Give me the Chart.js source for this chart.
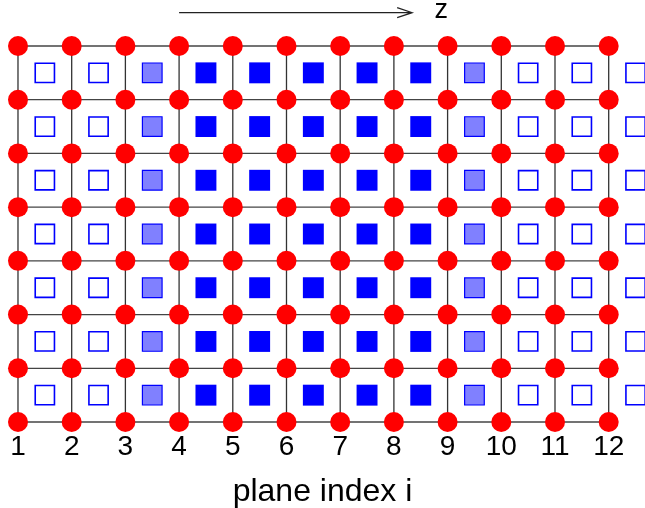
<!DOCTYPE html>
<html>
<head>
<meta charset="utf-8">
<script src="https://cdn.jsdelivr.net/npm/chart.js@4/dist/chart.umd.min.js"></script>
<style>
  html, body { margin: 0; padding: 0; background: #fff; }
  #wrap { width: 645px; height: 508px; }
</style>
</head>
<body>
<div id="wrap"><canvas id="mycanvas"></canvas></div>
<script>
// lattice planes along z (tick labels) and the row levels
var planeIndex = [1, 2, 3, 4, 5, 6, 7, 8, 9, 10, 11, 12];
var tickLabels = ["1", "2", "3", "4", "5", "6", "7", "8", "9", "10", "11", "12"];
var rowLevels = [0, 1, 2, 3, 4, 5, 6, 7];

// squares sit between the planes
var squareRows = [0.5, 1.5, 2.5, 3.5, 4.5, 5.5, 6.5];
var emptyCols = [1.5, 2.5, 10.5, 11.5, 12.5];
var halfCols = [3.5, 9.5];
var fullCols = [4.5, 5.5, 6.5, 7.5, 8.5];

// arrow "z" at the top
var arrowFrom = 4;
var arrowTo = 8.34;
var arrowLevel = 7.62;
var arrowLabelX = 8.88;

var font = "'Liberation Sans', Arial, Helvetica, sans-serif";

function grid(cols, rows) {
  var pts = [];
  for (var i = 0; i < cols.length; i++) {
    for (var j = 0; j < rows.length; j++) {
      pts.push({x: cols[i], y: rows[j]});
    }
  }
  return pts;
}

var datasets = [];

// horizontal lattice lines
rowLevels.forEach(function (r) {
  datasets.push({
    type: 'line',
    data: [{x: planeIndex[0], y: r}, {x: planeIndex[planeIndex.length - 1], y: r}],
    borderColor: '#444',
    borderWidth: 1.3,
    pointRadius: 0,
    order: 5
  });
});
// vertical lattice lines
planeIndex.forEach(function (c) {
  datasets.push({
    type: 'line',
    data: [{x: c, y: rowLevels[0]}, {x: c, y: rowLevels[rowLevels.length - 1]}],
    borderColor: '#333',
    borderWidth: 1.3,
    pointRadius: 0,
    order: 5
  });
});

datasets.push({
  type: 'scatter',
  data: grid(planeIndex, rowLevels),
  pointStyle: 'circle',
  pointRadius: 10,
  backgroundColor: '#ff0000',
  borderWidth: 0,
  clip: false,
  order: 1
});
datasets.push({
  type: 'scatter',
  data: grid(emptyCols, squareRows),
  pointStyle: 'rect',
  pointRadius: 13.6,
  backgroundColor: '#ffffff',
  borderColor: '#0000ff',
  borderWidth: 1.6,
  clip: false,
  order: 1
});
datasets.push({
  type: 'scatter',
  data: grid(halfCols, squareRows),
  pointStyle: 'rect',
  pointRadius: 13.9,
  backgroundColor: '#8080ff',
  borderColor: '#0000ff',
  borderWidth: 1.2,
  clip: false,
  order: 1
});
datasets.push({
  type: 'scatter',
  data: grid(fullCols, squareRows),
  pointStyle: 'rect',
  pointRadius: 14.8,
  backgroundColor: '#0000ff',
  borderWidth: 0,
  clip: false,
  order: 1
});

var arrowPlugin = {
  id: 'zArrow',
  afterDatasetsDraw: function (chart) {
    var ctx = chart.ctx;
    var xs = chart.scales.x, ys = chart.scales.y;
    var x0 = xs.getPixelForValue(arrowFrom);
    var x1 = xs.getPixelForValue(arrowTo);
    var y = ys.getPixelForValue(arrowLevel);
    ctx.save();
    ctx.strokeStyle = '#222';
    ctx.lineWidth = 1.2;
    ctx.beginPath();
    ctx.moveTo(x0, y);
    ctx.lineTo(x1, y);
    ctx.moveTo(x1 - 15, y - 5);
    ctx.lineTo(x1, y);
    ctx.lineTo(x1 - 15, y + 5);
    ctx.stroke();
    ctx.fillStyle = '#000';
    ctx.font = '27px ' + font;
    ctx.textAlign = 'center';
    ctx.textBaseline = 'middle';
    ctx.fillText('z', xs.getPixelForValue(arrowLabelX), y - 2);
    ctx.restore();
  }
};

var ctx = document.getElementById('mycanvas');
var chart = new Chart(ctx, {
  data: {datasets: datasets},
  plugins: [arrowPlugin],
  options: {
    responsive: true,
    maintainAspectRatio: false,
    animation: false,
    layout: {padding: 0, autoPadding: false},
    plugins: {legend: {display: false}, tooltip: {enabled: false}},
    scales: {
      x: {
        type: 'linear',
        min: 0.665,
        max: 12.676,
        afterBuildTicks: function (axis) {
          axis.ticks = planeIndex.map(function (v) { return {value: v}; });
        },
        ticks: {
          color: '#000',
          font: {family: font, size: 28},
          padding: 0,
          maxRotation: 0,
          callback: function (value) { return tickLabels[planeIndex.indexOf(value)]; }
        },
        grid: {display: false, drawTicks: false},
        border: {display: false},
        title: {
          display: true,
          text: 'plane index i',
          color: '#000',
          font: {family: font, size: 32, lineHeight: 1},
          padding: {top: 12, bottom: 0}
        }
      },
      y: {
        type: 'linear',
        display: false,
        min: -0.156,
        max: 7.856
      }
    }
  }
});
</script>
</body>
</html>
